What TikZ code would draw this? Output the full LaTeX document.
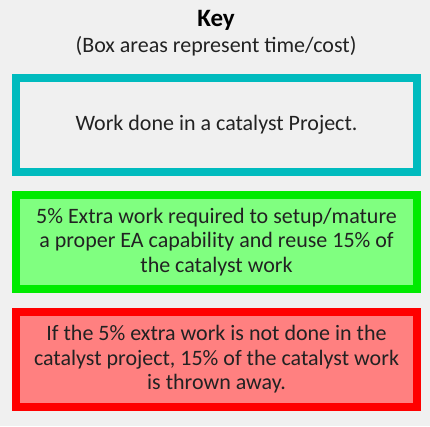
\documentclass[tikz,border=0pt]{standalone}
\usepackage{fontspec}
\setmainfont{Carlito}
\usepackage{xcolor}
\definecolor{keybg}{RGB}{240,240,240}
\definecolor{catalystline}{RGB}{0,187,190}
\definecolor{catalystfill}{RGB}{240,240,240}
\definecolor{extraline}{RGB}{0,235,0}
\definecolor{extrafill}{RGB}{128,255,128}
\definecolor{wasteline}{RGB}{255,0,0}
\definecolor{wastefill}{RGB}{255,128,128}
\definecolor{keytext}{RGB}{34,34,34}

\begin{document}
\begin{tikzpicture}
[
    x=1pt,y=-1pt,
    keybox/.style={rectangle,minimum width=401pt,minimum height=94pt,line width=8pt,align=center,text=keytext,font=\fontsize{22}{24.5}\selectfont},
    catalyst/.style={keybox,draw=catalystline,fill=catalystfill},
    extra/.style={keybox,draw=extraline,fill=extrafill},
    waste/.style={keybox,draw=wasteline,fill=wastefill},
    heading/.style={text=black,font=\bfseries\fontsize{25}{28}\selectfont},
    subheading/.style={text=keytext,font=\fontsize{22}{24}\selectfont}
]
\fill[keybg] (0,0) rectangle (430,426);
\useasboundingbox (0,0) rectangle (430,426);

\node (title) at (216,20) [heading] {Key};
\node (subtitle) at (216,46) [subheading] {(Box areas represent time/cost)};

\node (catalyst) at (216.5,125) [catalyst] {Work done in a catalyst Project.};
\node (extra) at (216.5,242) [extra] {5\% Extra work required to setup/mature\\a proper EA capability and reuse 15\% of\\the catalyst work};
\node (waste) at (216.5,359.5) [waste,minimum height=95pt] {If the 5\% extra work is not done in the\\catalyst project, 15\% of the catalyst work\\is thrown away.};

\end{tikzpicture}
\end{document}
